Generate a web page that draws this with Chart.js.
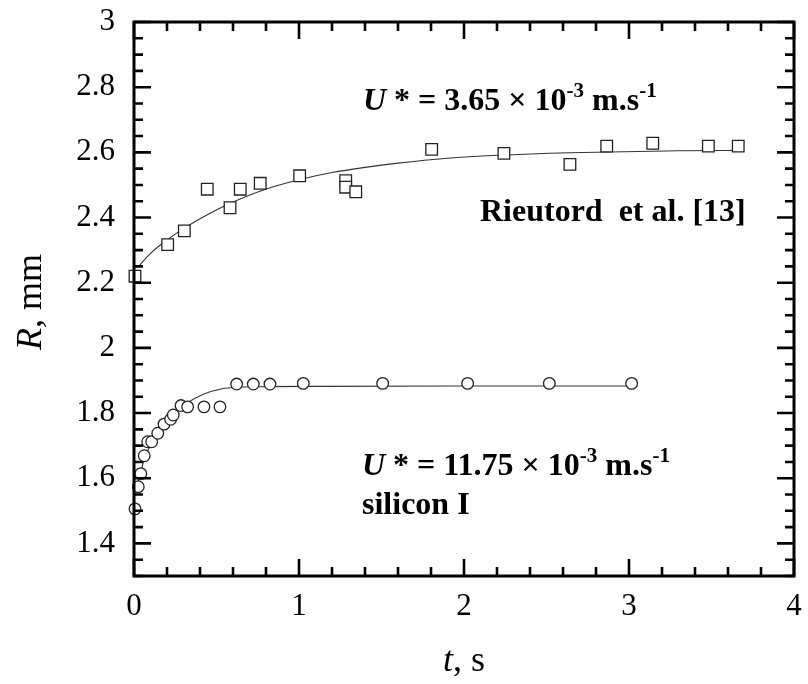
<!DOCTYPE html>
<html><head><meta charset="utf-8">
<script src="https://cdn.jsdelivr.net/npm/chart.js@4"></script>
<style>html,body{margin:0;padding:0;background:#fff}#wrap{width:808px;height:684px;position:relative}</style>
</head><body><div id="wrap"><canvas id="c"></canvas></div>
<script>
// ---- data ----
const rieutordT = [0.006,0.204,0.305,0.444,0.582,0.644,0.765,1.004,1.283,1.283,1.344,1.804,2.242,2.642,2.865,3.144,3.481,3.662];
const rieutordR = [2.220,2.317,2.359,2.487,2.430,2.487,2.505,2.528,2.513,2.493,2.479,2.609,2.597,2.563,2.619,2.628,2.619,2.619];
const rieutordFitT = [0.03,0.1,0.2,0.3,0.45,0.58,0.78,1.0,1.2,1.4,1.6,1.9,2.2,2.64,3.3,3.69];
const rieutordFitR = [2.251,2.290,2.331,2.366,2.410,2.443,2.484,2.516,2.538,2.554,2.567,2.582,2.591,2.599,2.605,2.606];
const siliconT = [0.006,0.026,0.041,0.062,0.083,0.107,0.144,0.182,0.222,0.238,0.285,0.325,0.424,0.521,0.622,0.723,0.824,1.026,1.507,2.022,2.517,3.016];
const siliconR = [1.506,1.574,1.614,1.669,1.712,1.712,1.738,1.766,1.781,1.794,1.823,1.819,1.819,1.819,1.889,1.889,1.889,1.891,1.891,1.891,1.891,1.891];
const siliconFitT = [0.016,0.04,0.067,0.117,0.178,0.238,0.319,0.42,0.521,0.622,0.8,1.127,2.0,3.05];
const siliconFitR = [1.569,1.617,1.666,1.715,1.769,1.799,1.830,1.858,1.873,1.879,1.881,1.882,1.883,1.883];
const xTickValues = [0,1,2,3,4];
const xTickLabels = ['0','1','2','3','4'];
const yTickValues = [1.4,1.6,1.8,2.0,2.2,2.4,2.6,2.8,3.0];
const yTickLabels = ['1.4','1.6','1.8','2','2.2','2.4','2.6','2.8','3'];
const xTitle = ['t', ', s'];
const yTitle = ['R', ', mm'];
const noteTop = ['U', ' * = 3.65 \u00d7 10', '-3', ' m.s', '-1'];
const noteRieutord = 'Rieutord  et al. [13]';
const noteSilicon = ['U', ' * = 11.75 \u00d7 10', '-3', ' m.s', '-1'];
const noteSiliconName = 'silicon I';

// ---- helpers ----
const SERIF = '"Liberation Serif", "Times New Roman", serif';
const pts = (xs, ys) => xs.map((x, i) => ({x: x, y: ys[i]}));
function labelFor(v, vals, labs) {
  for (let i = 0; i < vals.length; i++) if (Math.abs(v - vals[i]) < 1e-6) return labs[i];
  return '';
}
function drawRich(ctx, x, y, segs) {
  let cx = x;
  for (const s of segs) {
    ctx.font = s.font;
    ctx.fillText(s.text, cx, y + (s.dy || 0));
    cx += ctx.measureText(s.text).width;
  }
  return cx - x;
}
function noteSegs(parts) {
  const big = 'bold 32px ' + SERIF, sup = 'bold 21px ' + SERIF;
  return [
    {text: parts[0], font: 'italic bold 32px ' + SERIF},
    {text: parts[1], font: big},
    {text: parts[2], font: sup, dy: -13},
    {text: parts[3], font: big},
    {text: parts[4], font: sup, dy: -13}
  ];
}

const framePlugin = {
  id: 'frame',
  afterDraw(chart) {
    const ctx = chart.ctx, a = chart.chartArea;
    const xs = chart.scales.x, ys = chart.scales.y;
    ctx.save();
    ctx.strokeStyle = '#000';
    ctx.lineCap = 'butt';
    // ticks (inward on all four sides)
    ctx.lineWidth = 2.6;
    ctx.beginPath();
    xs.ticks.forEach(t => {
      const p = xs.getPixelForValue(t.value);
      const major = labelFor(t.value, xTickValues, xTickLabels) !== '';
      const L = major ? 17 : 9;
      ctx.moveTo(p, a.bottom); ctx.lineTo(p, a.bottom - L);
      ctx.moveTo(p, a.top); ctx.lineTo(p, a.top + L);
    });
    ys.ticks.forEach(t => {
      const p = ys.getPixelForValue(t.value);
      const major = labelFor(t.value, yTickValues, yTickLabels) !== '';
      const L = major ? 17 : 9;
      ctx.moveTo(a.left, p); ctx.lineTo(a.left + L, p);
      ctx.moveTo(a.right, p); ctx.lineTo(a.right - L, p);
    });
    ctx.stroke();
    // frame
    ctx.lineWidth = 3;
    ctx.strokeRect(a.left, a.top, a.right - a.left, a.bottom - a.top);

    // annotations
    ctx.fillStyle = '#000';
    ctx.textBaseline = 'alphabetic';
    ctx.textAlign = 'left';
    drawRich(ctx, 363, 110, noteSegs(noteTop));
    ctx.font = 'bold 32px ' + SERIF;
    ctx.fillText(noteRieutord, 480, 221);
    drawRich(ctx, 362, 475, noteSegs(noteSilicon));
    ctx.font = 'bold 32px ' + SERIF;
    ctx.fillText(noteSiliconName, 362, 514);

    // axis titles
    const tf = [{text: xTitle[0], font: 'italic 36px ' + SERIF}, {text: xTitle[1], font: '36px ' + SERIF}];
    ctx.font = tf[0].font; let w = ctx.measureText(tf[0].text).width;
    ctx.font = tf[1].font; w += ctx.measureText(tf[1].text).width;
    drawRich(ctx, (a.left + a.right) / 2 - w / 2, 671, tf);

    const yf = [{text: yTitle[0], font: 'italic 36px ' + SERIF}, {text: yTitle[1], font: '36px ' + SERIF}];
    ctx.font = yf[0].font; let wy = ctx.measureText(yf[0].text).width;
    ctx.font = yf[1].font; wy += ctx.measureText(yf[1].text).width;
    ctx.translate(41, 302);
    ctx.rotate(-Math.PI / 2);
    drawRich(ctx, -wy / 2, 0, yf);
    ctx.restore();
  }
};

new Chart(document.getElementById('c'), {
  type: 'scatter',
  data: {
    datasets: [
      {label: 'Rieutord et al. [13]', data: pts(rieutordT, rieutordR), pointStyle: 'rect', pointRadius: 8.2, pointBorderWidth: 1.3,
       borderColor: '#222', backgroundColor: '#fff', showLine: false, clip: false},
      {label: 'silicon I', data: pts(siliconT, siliconR), pointStyle: 'circle', pointRadius: 5.8, pointBorderWidth: 1.3,
       borderColor: '#222', backgroundColor: '#fff', showLine: false, clip: false},
      {label: 'Rieutord fit', data: pts(rieutordFitT, rieutordFitR), showLine: true, pointRadius: 0, borderWidth: 1.1,
       borderColor: '#333', cubicInterpolationMode: 'monotone', fill: false},
      {label: 'silicon fit', data: pts(siliconFitT, siliconFitR), showLine: true, pointRadius: 0, borderWidth: 1.1,
       borderColor: '#333', cubicInterpolationMode: 'monotone', fill: false}
    ]
  },
  options: {
    responsive: true, maintainAspectRatio: false, animation: false,
    layout: {padding: {top: 22, right: 14, left: 0, bottom: 0}},
    plugins: {legend: {display: false}, tooltip: {enabled: false}},
    scales: {
      x: {
        type: 'linear', min: 0, max: 4,
        grid: {display: false, drawTicks: false}, border: {display: false},
        ticks: {stepSize: 0.2, autoSkip: false, maxRotation: 0, padding: 12, color: '#000',
          font: {family: SERIF, size: 31},
          callback: v => labelFor(v, xTickValues, xTickLabels)},
        afterFit: s => { s.height = 108; s.paddingLeft = 0; s.paddingRight = 0; }
      },
      y: {
        type: 'linear', min: 1.3, max: 3.0,
        grid: {display: false, drawTicks: false}, border: {display: false},
        ticks: {stepSize: 0.05, autoSkip: false, padding: 19, color: '#000',
          font: {family: SERIF, size: 31},
          callback: v => labelFor(v, yTickValues, yTickLabels)},
        afterFit: s => { s.width = 134; s.paddingTop = 0; s.paddingBottom = 0; }
      }
    }
  },
  plugins: [framePlugin]
});
</script>
</body></html>
